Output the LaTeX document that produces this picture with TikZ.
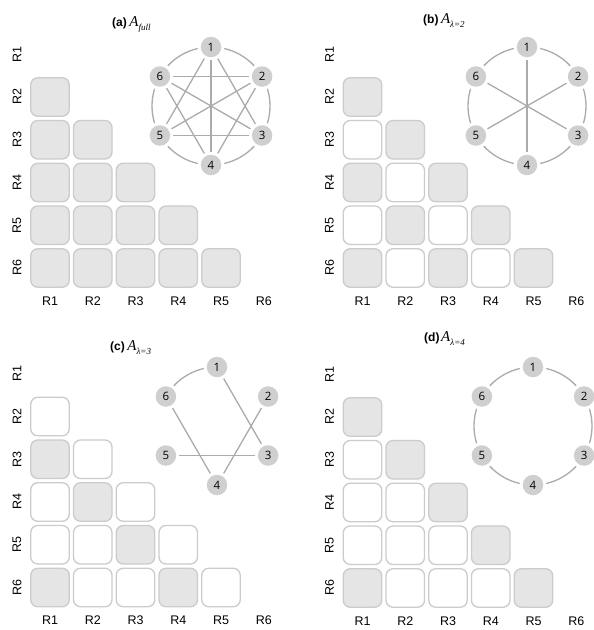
\documentclass[tikz,border=0pt]{standalone}
\usepackage{fontspec}
\setmainfont{Liberation Serif}
\setsansfont{Liberation Sans}
\newfontfamily\numfont{Open Sans}
\definecolor{cellfill}{HTML}{E5E5E5}
\definecolor{cellline}{HTML}{CCCCCC}
\definecolor{nodefill}{HTML}{CFCFCF}
\definecolor{edgecol}{HTML}{ABABAB}
\newcommand\mypanel[4]{%
  \foreach \i in {2,...,6}{%
    \pgfmathtruncatemacro\jmax{\i-1}%
    \foreach \j in {1,...,\jmax}{%
      \pgfmathtruncatemacro\g{#4}%
      \ifnum\g=1 \def\fc{cellfill}\else\def\fc{white}\fi
      \node[cell, fill=\fc] (#1-\i-\j) at ({#2+50+42.75*(\j-1)}, {#3+54.25+42.75*(\i-1)}) {};
    }}%
  \foreach \k in {1,...,6}{%
    \node[axlab, rotate=90] (#1-r\k) at (#2+17, {#3+54.25+42.75*(\k-1)}) {R\k};
    \node[axlab] (#1-c\k) at ({#2+50+42.75*(\k-1)}, #3+301) {R\k};
  }}
\newcommand\mygraph[3]{%
  \foreach \k/\a in {1/-90,2/-30,3/30,4/90,5/150,6/210}{%
    \node[vnode] (#1n\k) at ({#2+59*cos(\a)}, {#3+59*sin(\a)}) {\k};
  }}
\newcommand\myring[2]{%
  \foreach \s in {-90,-30,30,90,150,210}{%
    \draw[ring] ({#1+59*cos(\s+13)}, {#2+59*sin(\s+13)}) arc[start angle=\s+13, end angle=\s+47, radius=59];
  }}
\begin{document}
\begin{tikzpicture}[x=1pt,y=-1pt,
  cell/.style={draw=cellline, line width=1.3pt, rounded corners=7pt, minimum size=38.5pt, inner sep=0pt},
  axlab/.style={font=\sffamily\fontsize{12.5}{12.5}\selectfont, inner sep=0pt},
  vnode/.style={circle, fill=nodefill, minimum size=20.5pt, inner sep=0pt, font=\numfont\fontsize{11.5}{11.5}\selectfont},
  edge/.style={draw=edgecol, line width=1.3pt, shorten >=3pt, shorten <=3pt},
  ring/.style={draw=edgecol, line width=1.3pt},
  title/.style={inner sep=0pt, anchor=base west}]
\useasboundingbox (0,0) rectangle (594,630);
\fill[white] (0,0) rectangle (594,630);

% panel (a)
\mypanel{a}{0}{0}{1}
\myring{211}{106}
\mygraph{a}{211}{106}
\foreach \p/\q in {1/3,1/4,1/5,2/4,2/5,2/6,3/5,3/6,4/6}
  \draw[edge] (an\p) -- (an\q);
\node[title] (ta) at (112,26) {{\sffamily\bfseries\fontsize{12}{12}\selectfont (a)} {\fontsize{15}{15}\selectfont\textit{A}}\raisebox{-4pt}{\fontsize{9}{9}\selectfont\textit{full}}};

% panel (b)
\mypanel{b}{312.5}{0}{mod(\i-\j,2)==1}
\myring{527}{106}
\mygraph{b}{527}{106}
\foreach \p/\q in {1/4,2/5,3/6}
  \draw[edge] (bn\p) -- (bn\q);
\node[title] (tb) at (423,23) {{\sffamily\bfseries\fontsize{12}{12}\selectfont (b)} {\fontsize{15}{15}\selectfont\textit{A}}\raisebox{-4pt}{\fontsize{9}{9}\selectfont\textit{λ=2}}};

% panel (c)
\mypanel{c}{0}{319.5}{(\i-\j==2) || (\i==6 && \j==1)}
\draw[ring] ({217+59*cos(223)}, {426+59*sin(223)}) arc[start angle=223, end angle=257, radius=59];
\mygraph{c}{217}{426}
\foreach \p/\q in {1/3,2/4,3/5,4/6}
  \draw[edge] (cn\p) -- (cn\q);
\node[title] (tc) at (110,350) {{\sffamily\bfseries\fontsize{12}{12}\selectfont (c)} {\fontsize{15}{15}\selectfont\textit{A}}\raisebox{-4pt}{\fontsize{9}{9}\selectfont\textit{λ=3}}};

% panel (d)
\mypanel{d}{312.5}{320}{(\i-\j==1) || (\i==6 && \j==1)}
\myring{533}{426}
\mygraph{d}{533}{426}
\node[title] (td) at (424,341) {{\sffamily\bfseries\fontsize{12}{12}\selectfont (d)}\,{\fontsize{15}{15}\selectfont\textit{A}}\raisebox{-4pt}{\fontsize{9}{9}\selectfont\textit{λ=4}}};
\end{tikzpicture}
\end{document}
